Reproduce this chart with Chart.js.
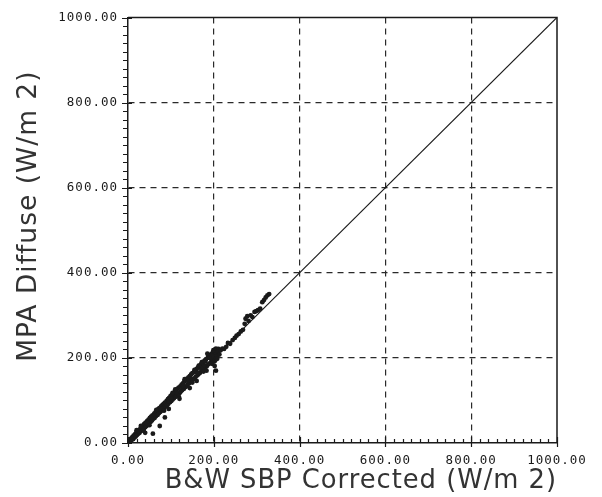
<!DOCTYPE html>
<html>
<head>
<meta charset="utf-8">
<title>MPA Diffuse vs B&amp;W SBP Corrected</title>
<script src="https://cdn.jsdelivr.net/npm/chart.js@4.4.0/dist/chart.umd.min.js"></script>
<style>
  html, body { margin:0; padding:0; background:#fff; }
  #wrap { width:602px; height:497px; }
</style>
</head>
<body>
<div id="wrap"><canvas id="chart" width="602" height="497"></canvas></div>
<script>
// ── Data (W/m2) ──────────────────────────────────────────────
const sbpX = [
  1,3,4,6,7,9,10,12,13,15,16,18,19,21,22,24,26,27,29,30,32,33,35,37,38,40,41,43,45,46,48,49,
  51,53,54,56,57,59,61,62,64,65,67,69,70,72,73,75,77,78,80,82,83,85,86,88,90,91,93,94,96,98,99,
  101,102,104,106,107,109,110,112,114,115,117,118,120,122,123,125,126,128,130,131,133,134,136,
  138,139,141,142,144,146,147,149,150,152,154,155,157,158,160,162,163,165,166,168,170,171,173,
  174,176,178,179,181,182,184,186,187,189,190,192,194,195,197,198,200,202,203,205,
  8,25,44,60,76,95,113,129,145,161,177,193,140,100,55,170,
  30,50,66,84,104,118,132,150,165,176,188,196,20,36,110,155,172,185,199,205,207,211,196,190,180,
  40,58,74,86,95,120,144,160,202,202,205,208,183,
  210,213,216,220,224,229,233,238,244,249,253,258,263,268,272,274,278,281,286,290,295,299,303,
  308,313,317,321,325,329
];
const mpaY = [
  2,1,7,4,10,8,14,9,17,13,20,15,24,19,27,22,31,24,34,28,38,30,41,34,45,37,48,40,52,44,55,46,
  59,50,62,53,65,57,69,59,72,63,76,66,79,70,82,73,86,76,89,80,92,83,95,86,99,89,103,92,106,96,110,
  99,113,102,116,105,120,108,123,111,127,115,130,117,133,121,137,124,140,127,144,131,147,133,
  151,137,154,140,157,143,161,147,164,150,167,152,171,156,174,159,177,163,181,165,184,169,187,
  172,191,175,194,179,197,181,200,185,204,187,207,191,210,194,212,198,214,201,209,
  9,27,47,64,80,99,118,134,150,166,183,199,146,105,59,176,
  40,42,78,76,118,110,150,142,182,168,206,186,30,30,126,172,190,210,218,222,204,221,205,200,192,
  24,22,40,60,80,104,129,146,181,192,170,198,170,
  215,208,218,222,221,226,235,233,242,247,252,256,262,266,280,292,298,287,300,296,308,310,312,
  316,331,336,342,347,350
];
// 1:1 reference line
const lineX = [0, 1000];
const lineY = [0, 1000];
// axis range / ticks
const axisMin = 0, axisMax = 1000, majorStep = 200, minorStep = 20;

const points = sbpX.map((x, i) => ({ x, y: mpaY[i] }));
const oneToOne = lineX.map((x, i) => ({ x, y: lineY[i] }));

const INK = '#1a1a1a';
const hideEdge = c => (c.tick && (c.tick.value === axisMin || c.tick.value === axisMax)) ? 'rgba(0,0,0,0)' : '#2a2a2a';

// ── Plot frame + minor ticks ─────────────────────────────────
const framePlugin = {
  id: 'frame',
  beforeDraw(chart) { chart.ctx.letterSpacing = '1px'; },
  afterDraw(chart) {
    const { ctx, chartArea: a, scales: { x, y } } = chart;
    ctx.save();
    ctx.strokeStyle = INK;
    ctx.lineWidth = 1.5;
    ctx.beginPath();
    ctx.moveTo(a.left, a.top); ctx.lineTo(a.right, a.top); ctx.lineTo(a.right, a.bottom);
    ctx.stroke();
    ctx.lineWidth = 1.2;
    ctx.beginPath();
    for (let v = axisMin; v <= axisMax; v += minorStep) {
      const major = v % majorStep === 0;
      const px = Math.round(x.getPixelForValue(v)) + 0.5;
      ctx.moveTo(px, a.bottom + (major ? 4 : 0));
      ctx.lineTo(px, a.bottom - (major ? 6 : 4));
      const py = Math.round(y.getPixelForValue(v)) + 0.5;
      ctx.moveTo(a.left + (major ? 4 : 0), py);
      ctx.lineTo(a.left - (major ? 6 : 5), py);
    }
    ctx.stroke();
    ctx.restore();
  }
};

const tickFont = { family: "'DejaVu Sans Mono', monospace", size: 12.5 };
const titleFont = { family: "'DejaVu Sans', sans-serif", size: 26.5 };

new Chart(document.getElementById('chart'), {
  type: 'scatter',
  data: {
    datasets: [
      { label: 'MPA vs B&W', data: points, backgroundColor: INK, borderWidth: 0, pointRadius: 2.4, pointHoverRadius: 2.4 },
      { type: 'line', label: '1:1', data: oneToOne, borderColor: INK, borderWidth: 1.1, pointRadius: 0, fill: false }
    ]
  },
  options: {
    responsive: false,
    animation: false,
    events: [],
    layout: { padding: { top: 13, right: 45, bottom: 0, left: 0 } },
    plugins: { legend: { display: false }, tooltip: { enabled: false } },
    scales: {
      x: {
        type: 'linear', min: axisMin, max: axisMax,
        afterFit: s => { s.height = 54; },
        ticks: { stepSize: majorStep, autoSkip: false, maxRotation: 0, padding: 10,
                 color: INK, font: tickFont, callback: v => v.toFixed(2) },
        grid: { color: hideEdge, lineWidth: 1.2, drawTicks: false },
        border: { display: true, color: INK, width: 1.5, dash: [6, 5] },
        title: { display: true, text: '    B&W SBP Corrected (W/m 2)', color: '#333', font: titleFont,
                 padding: { top: 0, bottom: 0 } }
      },
      y: {
        type: 'linear', min: axisMin, max: axisMax,
        afterFit: s => { s.width = 128; },
        ticks: { stepSize: majorStep, autoSkip: false, padding: 10,
                 color: INK, font: tickFont, callback: v => v.toFixed(2) },
        grid: { color: hideEdge, lineWidth: 1.2, drawTicks: false },
        border: { display: true, color: INK, width: 1.5, dash: [6, 5] },
        title: { display: true, text: '   MPA Diffuse (W/m 2)', color: '#333', font: titleFont,
                 padding: { top: 13, bottom: 0 } }
      }
    }
  },
  plugins: [framePlugin]
});
</script>
</body>
</html>
